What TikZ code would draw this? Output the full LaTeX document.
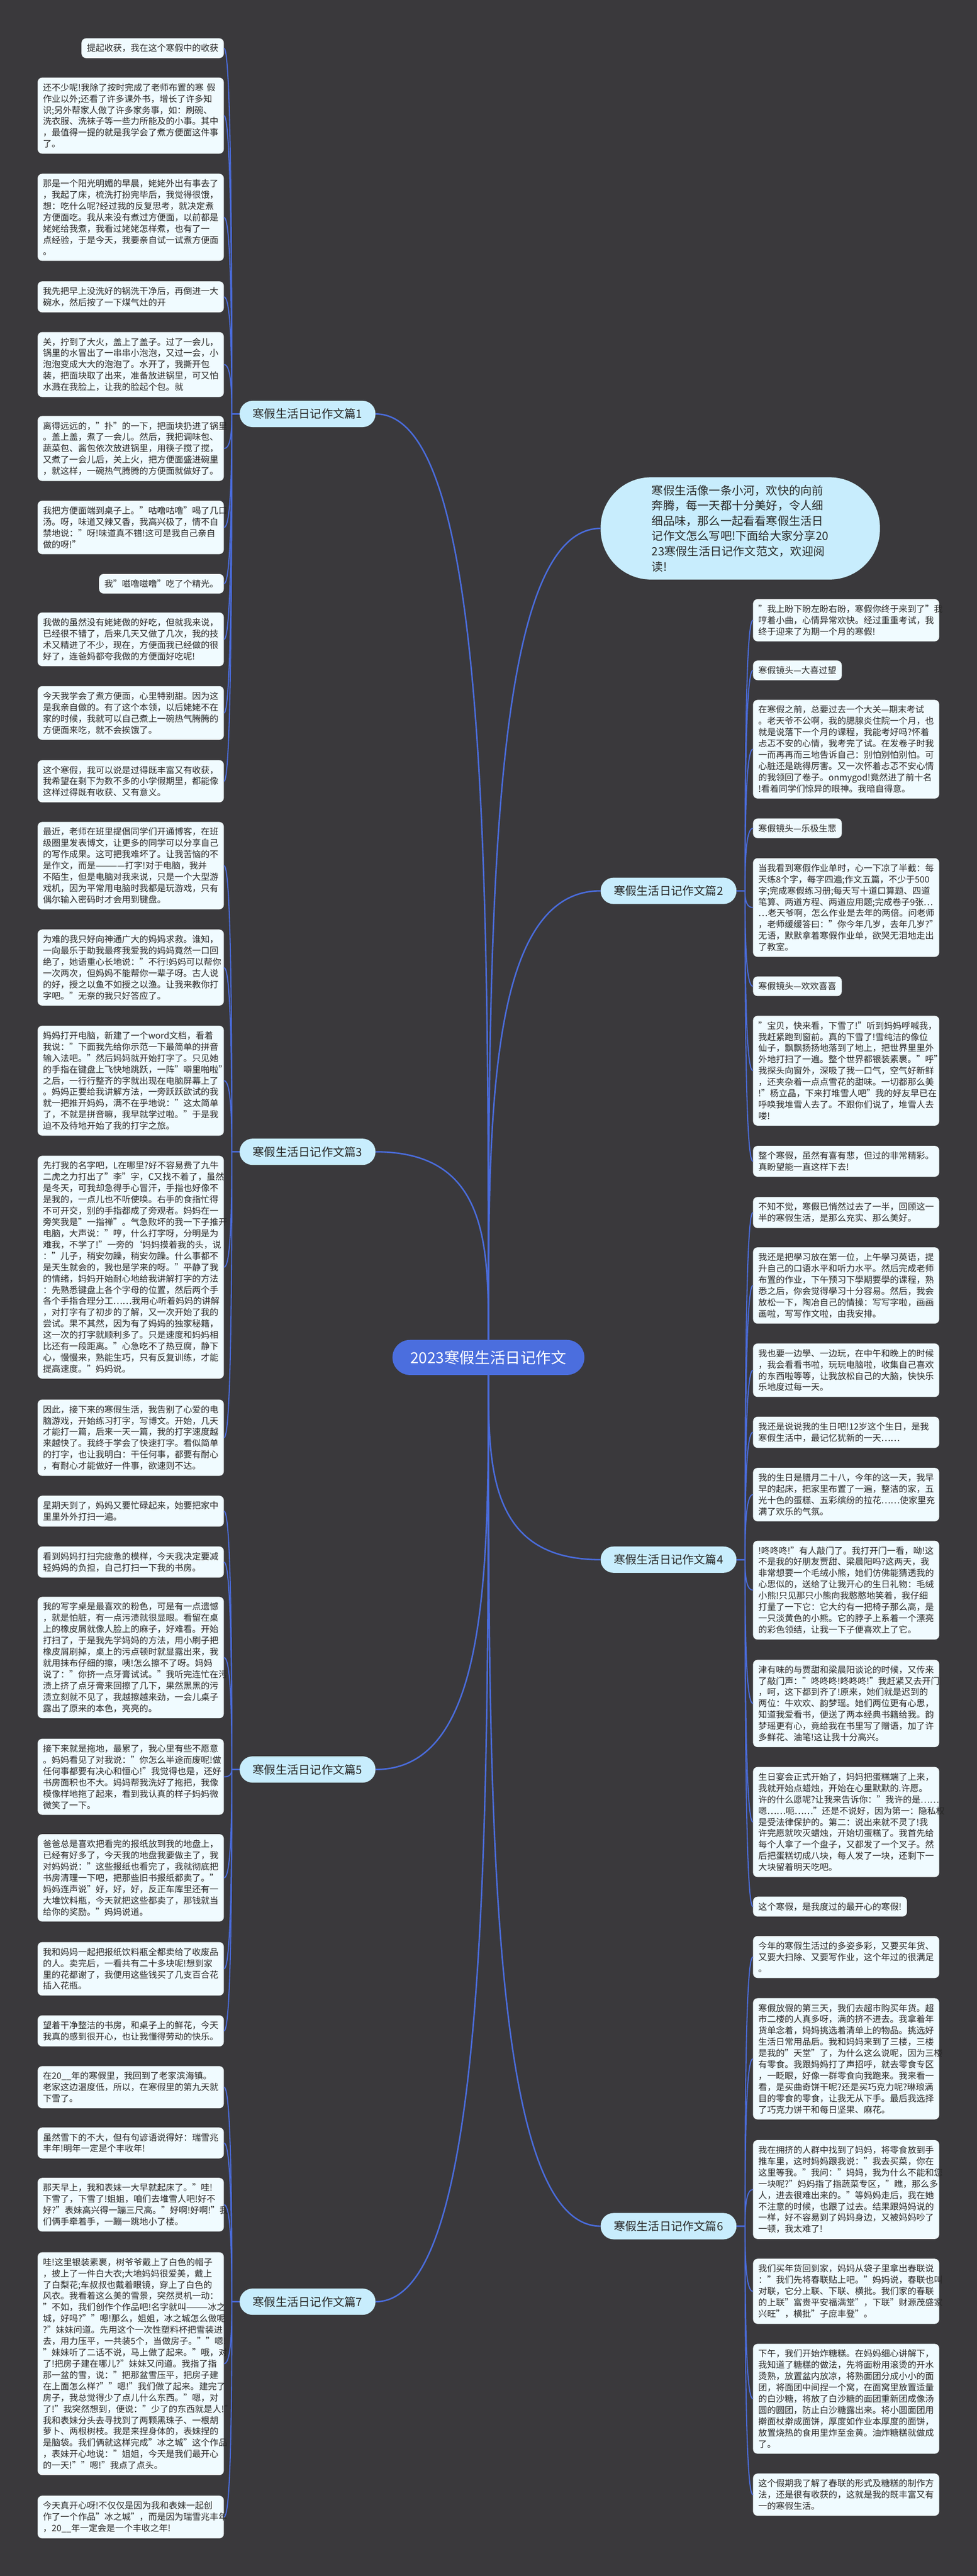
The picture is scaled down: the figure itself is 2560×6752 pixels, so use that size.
\documentclass[tikz,border=0pt]{standalone}
\usepackage{fontspec}
\setmainfont{Noto Sans CJK SC}
\usepackage{xcolor}
\usepackage{tikz}
\usetikzlibrary{calc}
\definecolor{bgcol}{RGB}{58,57,60}
\definecolor{leafcol}{RGB}{240,251,255}
\definecolor{branchcol}{RGB}{200,237,253}
\definecolor{rootcol}{RGB}{75,110,222}
\definecolor{linecol}{RGB}{74,108,220}
\definecolor{textcol}{RGB}{40,40,40}
\hyphenpenalty=10000
\exhyphenpenalty=10000

\tikzset{
  leafs/.style={fill=leafcol, rounded corners=6pt, inner xsep=7pt, inner ysep=7.5pt, align=left, text=textcol, font=\fontsize{11.5pt}{14.8pt}\selectfont},
  leaf/.style={leafs, text width=230pt},
  branch/.style={fill=branchcol, rounded corners=17pt, minimum width=178pt, minimum height=34.5pt, text=textcol, font=\fontsize{15pt}{18pt}\selectfont},
  root/.style={fill=rootcol, rounded corners=23pt, minimum width=251.5pt, minimum height=46pt, text=white, font=\fontsize{20pt}{24pt}\selectfont},
  intro/.style={fill=branchcol, rounded corners=66pt, minimum width=366pt, minimum height=134pt, text width=232pt, align=left, text=textcol, font=\fontsize{15pt}{20pt}\selectfont},
  leaflink/.style={draw=linecol, line width=1.4pt},
  rootlink/.style={draw=linecol, line width=1.9pt}
}

\begin{document}
\begin{tikzpicture}[x=0.5pt, y=-0.5pt]
\useasboundingbox (0,0) rectangle (2560,6752);
\fill[bgcol] (0,0) rectangle (2560,6752);

% centre and branches
\node[root] (root) at (1280,3558) {2023寒假生活日记作文};
\node[intro] (intro) at (1940,1385) {寒假生活像一条小河，欢快的向前\\奔腾，每一天都十分美好，令人细\\细品味，那么一起看看寒假生活日\\记作文怎么写吧!下面给大家分享20\\23寒假生活日记作文范文，欢迎阅\\读!};
\node[branch] (b1) at (806,1085) {寒假生活日记作文篇1};
\node[branch] (b2) at (1752,2335) {寒假生活日记作文篇2};
\node[branch] (b3) at (806,3019) {寒假生活日记作文篇3};
\node[branch] (b4) at (1752,4088) {寒假生活日记作文篇4};
\node[branch] (b5) at (806,4638) {寒假生活日记作文篇5};
\node[branch] (b6) at (1752,5835) {寒假生活日记作文篇6};
\node[branch] (b7) at (806,6033) {寒假生活日记作文篇7};

% left leaves
\node[leafs, anchor=north east] (l1) at (587,100) {提起收获，我在这个寒假中的收获};
\node[leaf, anchor=north east] (l2) at (587,203) {还不少呢!我除了按时完成了老师布置的寒~假\\作业以外;还看了许多课外书，增长了许多知\\识;另外帮家人做了许多家务事，如：刷碗、\\洗衣服、洗袜子等一些力所能及的小事。其中\\，最值得一提的就是我学会了煮方便面这件事\\了。};
\node[leaf, anchor=north east] (l3) at (587,455) {那是一个阳光明媚的早晨，姥姥外出有事去了\\，我起了床，梳洗打扮完毕后，我觉得很饿，\\想：吃什么呢?经过我的反复思考，就决定煮\\方便面吃。我从来没有煮过方便面，以前都是\\姥姥给我煮，我看过姥姥怎样煮，也有了一\\点经验，于是今天，我要亲自试一试煮方便面\\。};
\node[leaf, anchor=north east] (l4) at (587,737) {我先把早上没洗好的锅洗干净后，再倒进一大\\碗水，然后按了一下煤气灶的开};
\node[leaf, anchor=north east] (l5) at (587,870) {关，拧到了大火，盖上了盖子。过了一会儿，\\锅里的水冒出了一串串小泡泡，又过一会，小\\泡泡变成大大的泡泡了。水开了，我撕开包\\装，把面块取了出来，准备放进锅里，可又怕\\水溅在我脸上，让我的脸起个包。就};
\node[leaf, anchor=north east] (l6) at (587,1090) {离得远远的，"扑"的一下，把面块扔进了锅里\\。盖上盖，煮了一会儿。然后，我把调味包、\\蔬菜包、酱包依次放进锅里，用筷子搅了搅，\\又煮了一会儿后，关上火，把方便面盛进碗里\\，就这样，一碗热气腾腾的方便面就做好了。};
\node[leaf, anchor=north east] (l7) at (587,1312) {我把方便面端到桌子上。"咕噜咕噜"喝了几口\\汤。呀，味道又辣又香，我高兴极了，情不自\\禁地说："呀!味道真不错!这可是我自己亲自\\做的呀!"};
\node[leafs, anchor=north east] (l8) at (587,1504) {我"嗞噜嗞噜"吃了个精光。};
\node[leaf, anchor=north east] (l9) at (587,1605) {我做的虽然没有姥姥做的好吃，但就我来说，\\已经很不错了，后来几天又做了几次，我的技\\术又精进了不少，现在，方便面我已经做的很\\好了，连爸妈都夸我做的方便面好吃呢!};
\node[leaf, anchor=north east] (l10) at (587,1798) {今天我学会了煮方便面，心里特别甜。因为这\\是我亲自做的。有了这个本领，以后姥姥不在\\家的时候，我就可以自己煮上一碗热气腾腾的\\方便面来吃，就不会挨饿了。};
\node[leaf, anchor=north east] (l11) at (587,1992) {这个寒假，我可以说是过得既丰富又有收获，\\我希望在剩下为数不多的小学假期里，都能像\\这样过得既有收获、又有意义。};
\node[leaf, anchor=north east] (l12) at (587,2154) {最近，老师在班里提倡同学们开通博客，在班\\级圈里发表博文，让更多的同学可以分享自己\\的写作成果。这可把我难坏了。让我苦恼的不\\是作文，而是————打字!对于电脑，我并\\不陌生，但是电脑对我来说，只是一个大型游\\戏机，因为平常用电脑时我都是玩游戏，只有\\偶尔输入密码时才会用到键盘。};
\node[leaf, anchor=north east] (l13) at (587,2436) {为难的我只好向神通广大的妈妈求救。谁知，\\一向最乐于助我最疼我爱我的妈妈竟然一口回\\绝了，她语重心长地说："不行!妈妈可以帮你\\一次两次，但妈妈不能帮你一辈子呀。古人说\\的好，授之以鱼不如授之以渔。让我来教你打\\字吧。"无奈的我只好答应了。};
\node[leaf, anchor=north east] (l14) at (587,2688) {妈妈打开电脑，新建了一个word文档，看着\\我说："下面我先给你示范一下最简单的拼音\\输入法吧。"然后妈妈就开始打字了。只见她\\的手指在键盘上飞快地跳跃，一阵"噼里啪啦"\\之后，一行行整齐的字就出现在电脑屏幕上了\\。妈妈正要给我讲解方法，一旁跃跃欲试的我\\就一把推开妈妈，满不在乎地说："这太简单\\了，不就是拼音嘛，我早就学过啦。"于是我\\迫不及待地开始了我的打字之旅。};
\node[leaf, anchor=north east] (l15) at (587,3029) {先打我的名字吧，L在哪里?好不容易费了九牛\\二虎之力打出了"李"字，C又找不着了，虽然\\是冬天，可我却急得手心冒汗，手指也好像不\\是我的，一点儿也不听使唤。右手的食指忙得\\不可开交，别的手指都成了旁观者。妈妈在一\\旁笑我是"一指禅"。气急败坏的我一下子推开\\电脑，大声说："哼，什么打字呀，分明是为\\难我，不学了!"一旁的`妈妈摸着我的头，说\\："儿子，稍安勿躁，稍安勿躁。什么事都不\\是天生就会的，我也是学来的呀。"平静了我\\的情绪，妈妈开始耐心地给我讲解打字的方法\\：先熟悉键盘上各个字母的位置，然后两个手\\各个手指合理分工……我用心听着妈妈的讲解\\，对打字有了初步的了解，又一次开始了我的\\尝试。果不其然，因为有了妈妈的独家秘籍，\\这一次的打字就顺利多了。只是速度和妈妈相\\比还有一段距离。"心急吃不了热豆腐，静下\\心，慢慢来，熟能生巧，只有反复训练，才能\\提高速度。"妈妈说。};
\node[leaf, anchor=north east] (l16) at (587,3668) {因此，接下来的寒假生活，我告别了心爱的电\\脑游戏，开始练习打字，写博文。开始，几天\\才能打一篇，后来一天一篇，我的打字速度越\\来越快了。我终于学会了快速打字。看似简单\\的打字，也让我明白：干任何事，都要有耐心\\，有耐心才能做好一件事，欲速则不达。};
\node[leaf, anchor=north east] (l17) at (587,3920) {星期天到了，妈妈又要忙碌起来，她要把家中\\里里外外打扫一遍。};
\node[leaf, anchor=north east] (l18) at (587,4053) {看到妈妈打扫完疲惫的模样，今天我决定要减\\轻妈妈的负担，自己打扫一下我的书房。};
\node[leaf, anchor=north east] (l19) at (587,4185) {我的写字桌是最喜欢的粉色，可是有一点遗憾\\，就是怕脏，有一点污渍就很显眼。看留在桌\\上的橡皮屑就像人脸上的麻子，好难看。开始\\打扫了，于是我先学妈妈的方法，用小刷子把\\橡皮屑刷掉，桌上的污点顿时就显露出来，我\\就用抹布仔细的擦，咦!怎么擦不了呀。妈妈\\说了："你挤一点牙膏试试。"我听完连忙在污\\渍上挤了点牙膏来回擦了几下，果然黑黑的污\\渍立刻就不见了，我越擦越来劲，一会儿桌子\\露出了原来的本色，亮亮的。};
\node[leaf, anchor=north east] (l20) at (587,4557) {接下来就是拖地，最累了，我心里有些不愿意\\。妈妈看见了对我说："你怎么半途而废呢!做\\任何事都要有决心和恒心!"我觉得也是，还好\\书房面积也不大。妈妈帮我洗好了拖把，我像\\模像样地拖了起来，看到我认真的样子妈妈微\\微笑了一下。};
\node[leaf, anchor=north east] (l21) at (587,4807) {爸爸总是喜欢把看完的报纸放到我的地盘上，\\已经有好多了，今天我的地盘我要做主了，我\\对妈妈说："这些报纸也看完了，我就彻底把\\书房清理一下吧，把那些旧书报纸都卖了。"\\妈妈连声说"好，好，好，反正车库里还有一\\大堆饮料瓶，今天就把这些都卖了，那钱就当\\给你的奖励。"妈妈说道。};
\node[leaf, anchor=north east] (l22) at (587,5090) {我和妈妈一起把报纸饮料瓶全都卖给了收废品\\的人。卖完后，一看共有二十多块呢!想到家\\里的花都谢了，我便用这些钱买了几支百合花\\插入花瓶。};
\node[leaf, anchor=north east] (l23) at (587,5282) {望着干净整洁的书房，和桌子上的鲜花，今天\\我真的感到很开心，也让我懂得劳动的快乐。};
\node[leaf, anchor=north east] (l24) at (587,5415) {在20\_\_年的寒假里，我回到了老家滨海镇。\\老家这边温度低，所以，在寒假里的第九天就\\下雪了。};
\node[leaf, anchor=north east] (l25) at (587,5576) {虽然雪下的不大，但有句谚语说得好：瑞雪兆\\丰年!明年一定是个丰收年!};
\node[leaf, anchor=north east] (l26) at (587,5708) {那天早上，我和表妹一大早就起床了。"哇!\\下雪了，下雪了!姐姐，咱们去堆雪人吧!好不\\好?"表妹高兴得一蹦三尺高。"好啊!好啊!"我\\们俩手牵着手，一蹦一跳地小了楼。};
\node[leaf, anchor=north east] (l27) at (587,5903) {哇!这里银装素裹，树爷爷戴上了白色的帽子\\，披上了一件白大衣;大地妈妈很爱美，戴上\\了白梨花;车叔叔也戴着眼镜，穿上了白色的\\风衣。我看着这么美的雪景，突然灵机一动：\\"不如，我们创作个作品吧!名字就叫———冰之\\城，好吗?""嗯!那么，姐姐，冰之城怎么做呢\\?"妹妹问道。先用这个一次性塑料杯把雪装进\\去，用力压平，一共装5个，当做房子。""嗯!\\"妹妹听了二话不说，马上做了起来。"哦，对\\了!把房子建在哪儿?"妹妹又问道。我指了指\\那一盆的雪，说："把那盆雪压平，把房子建\\在上面怎么样?""嗯!"我们做了起来。建完了\\房子，我总觉得少了点儿什么东西。"嗯，对\\了!"我突然想到，便说："少了的东西就是人!"\\我和表妹分头去寻找到了两颗黑珠子、一根胡\\萝卜、两根树枝。我是来捏身体的，表妹捏的\\是脑袋。我们俩就这样完成"冰之城"这个作品\\，表妹开心地说："姐姐，今天是我们最开心\\的一天!""嗯!"我点了点头。};
\node[leaf, anchor=north east] (l28) at (587,6541) {今天真开心呀!不仅仅是因为我和表妹一起创\\作了一个作品"冰之城"，而是因为瑞雪兆丰年\\，20\_\_年一定会是一个丰收之年!};

% right leaves
\node[leaf, anchor=north west] (r1) at (1973,1570) {"我上盼下盼左盼右盼，寒假你终于来到了"我\\哼着小曲，心情异常欢快。经过重重考试，我\\终于迎来了为期一个月的寒假!};
\node[leafs, anchor=north west] (r2) at (1973,1731) {寒假镜头—大喜过望};
\node[leaf, anchor=north west] (r3) at (1973,1834) {在寒假之前，总要过去一个大关—期末考试\\。老天爷不公啊，我的腮腺炎住院一个月，也\\就是说落下一个月的课程，我能考好吗?怀着\\忐忑不安的心情，我考完了试。在发卷子时我\\一而再再而三地告诉自己：别怕别怕别怕。可\\心脏还是跳得厉害。又一次怀着忐忑不安心情\\的我领回了卷子。onmygod!竟然进了前十名\\!看着同学们惊异的眼神。我暗自得意。};
\node[leafs, anchor=north west] (r4) at (1973,2145) {寒假镜头—乐极生悲};
\node[leaf, anchor=north west] (r5) at (1973,2249) {当我看到寒假作业单时，心一下凉了半截：每\\天练8个字，每字四遍;作文五篇，不少于500\\字;完成寒假练习册;每天写十道口算题、四道\\笔算、两道方程、两道应用题;完成卷子9张…\\…老天爷啊，怎么作业是去年的两倍。问老师\\，老师缓缓答曰："你今年几岁，去年几岁?"\\无语，默默拿着寒假作业单，欲哭无泪地走出\\了教室。};
\node[leafs, anchor=north west] (r6) at (1973,2559) {寒假镜头—欢欢喜喜};
\node[leaf, anchor=north west] (r7) at (1973,2662) {"宝贝，快来看，下雪了!"听到妈妈呼喊我，\\我赶紧跑到窗前。真的下雪了!雪纯洁的像位\\仙子，飘飘扬扬地落到了地上，把世界里里外\\外地打扫了一遍。整个世界都银装素裹。"呼"\\我探头向窗外，深吸了我一口气，空气好新鲜\\，还夹杂着一点点雪花的甜味。一切都那么美\\!"杨立晶，下来打堆雪人吧"我的好友早已在\\呼唤我堆雪人去了。不跟你们说了，堆雪人去\\喽!};
\node[leaf, anchor=north west] (r8) at (1973,3003) {整个寒假，虽然有喜有悲，但过的非常精彩。\\真盼望能一直这样下去!};
\node[leaf, anchor=north west] (r9) at (1973,3137) {不知不觉，寒假已悄然过去了一半，回顾这一\\半的寒假生活，是那么充实、那么美好。};
\node[leaf, anchor=north west] (r10) at (1973,3269) {我还是把學习放在第一位，上午學习英语，提\\升自己的口语水平和听力水平。然后完成老师\\布置的作业，下午预习下學期要學的课程，熟\\悉之后，你会觉得學习十分容易。然后，我会\\放松一下，陶冶自己的情操：写写字啦，画画\\画啦，写写作文啦，由我安排。};
\node[leaf, anchor=north west] (r11) at (1973,3521) {我也要一边學、一边玩，在中午和晚上的时候\\，我会看看书啦，玩玩电脑啦，收集自己喜欢\\的东西啦等等，让我放松自己的大脑，快快乐\\乐地度过每一天。};
\node[leaf, anchor=north west] (r12) at (1973,3713) {我还是说说我的生日吧!12岁这个生日，是我\\寒假生活中，最记忆犹新的一天……};
\node[leaf, anchor=north west] (r13) at (1973,3847) {我的生日是腊月二十八，今年的这一天，我早\\早的起床，把家里布置了一遍，整洁的家，五\\光十色的蛋糕、五彩缤纷的拉花……使家里充\\满了欢乐的气氛。};
\node[leaf, anchor=north west] (r14) at (1973,4038) {!咚咚咚!"有人敲门了。我打开门一看，呦!这\\不是我的好朋友贾甜、梁晨阳吗?这两天，我\\非常想要一个毛绒小熊，她们仿佛能猜透我的\\心思似的，送给了让我开心的生日礼物：毛绒\\小熊!只见那只小熊向我憨憨地笑着，我仔细\\打量了一下它：它大约有一把椅子那么高，是\\一只淡黄色的小熊。它的脖子上系着一个漂亮\\的彩色领结，让我一下子便喜欢上了它。};
\node[leaf, anchor=north west] (r15) at (1973,4350) {津有味的与贾甜和梁晨阳谈论的时候，又传来\\了敲门声："咚咚咚!咚咚咚!"我赶紧又去开门\\，呵，这下都到齐了!原来，她们就是迟到的\\两位：牛欢欢、韵梦瑶。她们两位更有心思，\\知道我爱看书，便送了两本经典书籍给我。韵\\梦瑶更有心，竟给我在书里写了赠语，加了许\\多鲜花、油笔!这让我十分高兴。};
\node[leaf, anchor=north west] (r16) at (1973,4631) {生日宴会正式开始了，妈妈把蛋糕端了上来，\\我就开始点蜡烛，开始在心里默默的.许愿。\\许的什么愿呢?让我来告诉你："我许的是……\\嗯……呃……"还是不说好，因为第一：隐私权\\是受法律保护的。第二：说出来就不灵了!我\\许完愿就吹灭蜡烛，开始切蛋糕了。我首先给\\每个人拿了一个盘子，又都发了一个叉子。然\\后把蛋糕切成八块，每人发了一块，还剩下一\\大块留着明天吃吧。};
\node[leafs, anchor=north west] (r17) at (1973,4971) {这个寒假，是我度过的最开心的寒假!};
\node[leaf, anchor=north west] (r18) at (1973,5074) {今年的寒假生活过的多姿多彩，又要买年货、\\又要大扫除、又要写作业，这个年过的很满足\\。};
\node[leaf, anchor=north west] (r19) at (1973,5237) {寒假放假的第三天，我们去超市购买年货。超\\市二楼的人真多呀，满的挤不进去。我拿着年\\货单念着，妈妈挑选着清单上的物品。挑选好\\生活日常用品后。我和妈妈来到了三楼，三楼\\是我的"天堂"了，为什么这么说呢，因为三楼\\有零食。我跟妈妈打了声招呼，就去零食专区\\，一眨眼，好像一群零食向我跑来。我来看一\\看，是买曲奇饼干呢?还是买巧克力呢?琳琅满\\目的零食的零食，让我无从下手。最后我选择\\了巧克力饼干和每日坚果、麻花。};
\node[leaf, anchor=north west] (r20) at (1973,5609) {我在拥挤的人群中找到了妈妈，将零食放到手\\推车里，这时妈妈跟我说："我去买菜，你在\\这里等我。"我问："妈妈，我为什么不能和您\\一块呢?"妈妈指了指蔬菜专区，"瞧，那么多\\人，进去很难出来的。"等妈妈走后，我在她\\不注意的时候，也跟了过去。结果跟妈妈说的\\一样，好不容易到了妈妈身边，又被妈妈吵了\\一顿，我太难了!};
\node[leaf, anchor=north west] (r21) at (1973,5920) {我们买年货回到家，妈妈从袋子里拿出春联说\\："我们先将春联贴上吧。"妈妈说，春联也叫\\对联，它分上联、下联、横批。我们家的春联\\的上联"富贵平安福满堂"，下联"财源茂盛家\\兴旺"，横批"子庶丰登"。};
\node[leaf, anchor=north west] (r22) at (1973,6143) {下午，我们开始炸糖糕。在妈妈细心讲解下，\\我知道了糖糕的做法，先将面粉用滚烫的开水\\烫熟，放置盆内放凉，将熟面团分成小小的面\\团，将面团中间捏一个窝，在面窝里放置适量\\的白沙糖，将放了白沙糖的面团重新团成像汤\\圆的圆团，防止白沙糖露出来。将小圆面团用\\擀面杖擀成面饼，厚度如作业本厚度的面饼，\\放置烧热的食用里炸至金黄。油炸糖糕就做成\\了。};
\node[leaf, anchor=north west] (r23) at (1973,6483) {这个假期我了解了春联的形式及糖糕的制作方\\法，还是很有收获的，这就是我的既丰富又有\\一的寒假生活。};

% spine points
\coordinate (s1) at ([xshift=-10pt]b1.west);
\coordinate (s3) at ([xshift=-10pt]b3.west);
\coordinate (s5) at ([xshift=-10pt]b5.west);
\coordinate (s7) at ([xshift=-10pt]b7.west);
\coordinate (s2) at ([xshift=11pt]b2.east);
\coordinate (s4) at ([xshift=11pt]b4.east);
\coordinate (s6) at ([xshift=11pt]b6.east);

% centre to branches
\foreach \b in {b1,b3} \draw[rootlink] (root.north) .. controls ($(root.north)!0.5!(root.north |- \b.east)$) and (root.north |- \b.east) .. (\b.east);
\foreach \b in {b5,b7} \draw[rootlink] (root.south) .. controls ($(root.south)!0.5!(root.south |- \b.east)$) and (root.south |- \b.east) .. (\b.east);
\foreach \b in {intro,b2} \draw[rootlink] (root.north) .. controls ($(root.north)!0.5!(root.north |- \b.west)$) and (root.north |- \b.west) .. (\b.west);
\foreach \b in {b4,b6} \draw[rootlink] (root.south) .. controls ($(root.south)!0.5!(root.south |- \b.west)$) and (root.south |- \b.west) .. (\b.west);

% branches to leaves
\foreach \i in {1,...,11} \draw[leaflink] (b1.west) -- (s1) .. controls ($(s1)!0.6!(s1 |- l\i.east)$) and ([xshift=8pt]l\i.east) .. (l\i.east);
\foreach \i in {12,...,16} \draw[leaflink] (b3.west) -- (s3) .. controls ($(s3)!0.6!(s3 |- l\i.east)$) and ([xshift=8pt]l\i.east) .. (l\i.east);
\foreach \i in {17,...,23} \draw[leaflink] (b5.west) -- (s5) .. controls ($(s5)!0.6!(s5 |- l\i.east)$) and ([xshift=8pt]l\i.east) .. (l\i.east);
\foreach \i in {24,...,28} \draw[leaflink] (b7.west) -- (s7) .. controls ($(s7)!0.6!(s7 |- l\i.east)$) and ([xshift=8pt]l\i.east) .. (l\i.east);
\foreach \i in {1,...,8} \draw[leaflink] (b2.east) -- (s2) .. controls ($(s2)!0.6!(s2 |- r\i.west)$) and ([xshift=-8pt]r\i.west) .. (r\i.west);
\foreach \i in {9,...,17} \draw[leaflink] (b4.east) -- (s4) .. controls ($(s4)!0.6!(s4 |- r\i.west)$) and ([xshift=-8pt]r\i.west) .. (r\i.west);
\foreach \i in {18,...,23} \draw[leaflink] (b6.east) -- (s6) .. controls ($(s6)!0.6!(s6 |- r\i.west)$) and ([xshift=-8pt]r\i.west) .. (r\i.west);
\end{tikzpicture}
\end{document}
